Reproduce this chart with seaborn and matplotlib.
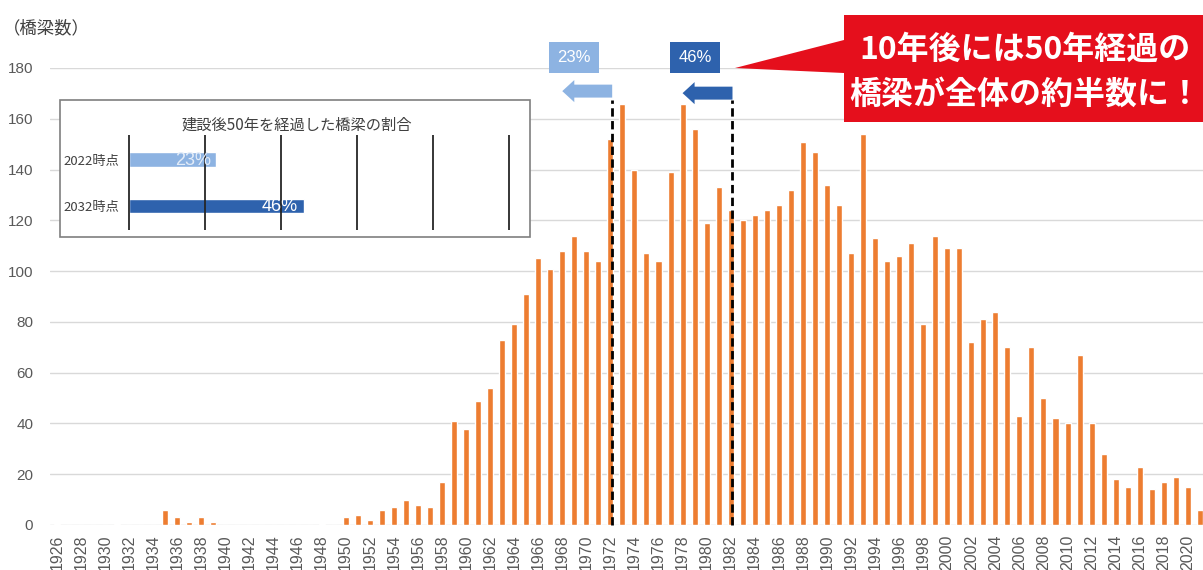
import matplotlib
matplotlib.use("Agg")
import matplotlib.pyplot as plt
from matplotlib.patches import Rectangle, Polygon, FancyArrow
import seaborn as sns
import pandas as pd

# Bridges by year of construction
years = list(range(1926, 2022))
counts = [
    0.5, 0, 0, 0, 0, 0.5, 0, 0, 0, 6,
    3, 1, 3, 1, 0, 0, 0, 0, 0, 0,
    0, 0, 0.5, 0, 3, 4, 2, 6, 7, 10,
    8, 7, 17, 41, 38, 49, 54, 73, 79, 91,
    105, 101, 108, 114, 108, 104, 152, 166, 140, 107,
    104, 139, 166, 156, 119, 133, 124, 120, 122, 124,
    126, 132, 151, 147, 134, 126, 107, 154, 113, 104,
    106, 111, 79, 114, 109, 109, 72, 81, 84, 70,
    43, 70, 50, 42, 40, 67, 40, 28, 18, 15,
    23, 14, 17, 19, 15, 6,
]
yticks = [0, 20, 40, 60, 80, 100, 120, 140, 160, 180]

# Share of bridges older than 50 years
share_labels = ["2022時点", "2032時点"]
share_values = [23, 46]
share_colors = ["#8db3e2", "#2e62ad"]

# Reference years marked with dashed lines (2022-50, 2032-50)
mark_years = [1972, 1982]

sns.set_theme(style="white")
JP = ["Noto Sans CJK JP", "DejaVu Sans"]
NUM = ["Liberation Sans", "DejaVu Sans"]
plt.rcParams["font.family"] = JP

W, H = 1203, 570
fig = plt.figure(figsize=(W / 100, H / 100), dpi=100)


def fx(px):
    return px / W


def fy(py):
    return 1 - py / H


ax = fig.add_axes([fx(50), fy(525), fx(1203 - 50), (525 - 68) / H])
df = pd.DataFrame({"year": years, "count": counts})
sns.barplot(data=df, x="year", y="count", color="#ED7D31", saturation=1,
            width=0.5, ax=ax, zorder=2)
ax.set_xlim(-0.58, 95.26)
ax.set_ylim(0, 180)
ax.set_yticks(yticks)
ax.set_yticklabels([str(v) for v in yticks], family=NUM, fontsize=11, color="#595959")
ax.set_xticks(range(0, len(years), 2))
ax.set_xticklabels([str(y) for y in years[::2]], rotation=90, family=NUM,
                   fontsize=11.5, color="#595959")
ax.tick_params(axis="y", length=0, pad=12)
ax.tick_params(axis="x", length=0, pad=7)
ax.set_xlabel("")
ax.set_ylabel("")
ax.grid(axis="y", color="#d9d9d9", lw=1, zorder=0)
ax.set_axisbelow(True)
for s in ax.spines.values():
    s.set_visible(False)

# Dashed markers at the 50-year thresholds
for yr in mark_years:
    xpos = years.index(yr) + 0.15
    ax.plot([xpos, xpos], [0, 167.5], color="black", lw=2, ls=(0, (3, 1.6)),
            zorder=4, clip_on=False)

# Arrows pointing to the older side of each threshold
arrow_specs = [(mark_years[0], 170.9, share_colors[0]), (mark_years[1], 170.1, share_colors[1])]
for yr, yv, col in arrow_specs:
    x0 = years.index(yr) + 0.15
    ax.add_patch(FancyArrow(x0, yv, -4.15, 0, width=5.1, head_width=8.7,
                            head_length=1.0, length_includes_head=True,
                            color=col, lw=0, zorder=5, clip_on=False))

# Percentage tags above the arrows
tag_specs = [(40.9, 45.05, share_values[0], share_colors[0]),
             (50.95, 55.1, share_values[1], share_colors[1])]
for xa, xb, val, col in tag_specs:
    ax.add_patch(Rectangle((xa, 178.0), xb - xa, 12.2, color=col, lw=0,
                           zorder=5, clip_on=False))
    ax.text((xa + xb) / 2, 184.1, f"{val}%", ha="center", va="center",
            color="white", fontsize=12, family=NUM, zorder=6, clip_on=False)

# Axis unit label
fig.text(fx(3), fy(28), "（橋梁数）", fontsize=12.5, color="#404040",
         ha="left", va="center")

# Inset frame
fig.add_artist(Rectangle((fx(60), fy(237)), fx(530 - 60), (237 - 100) / H,
                         transform=fig.transFigure, facecolor="white",
                         edgecolor="#7f7f7f", lw=1.2, zorder=3))
fig.text(fx(297), fy(125), "建設後50年を経過した橋梁の割合", fontsize=11,
         color="#404040", ha="center", va="center", zorder=4)

ins = fig.add_axes([fx(128), fy(230), fx(510 - 128), (230 - 135) / H])
ins.set_zorder(4)
ins.patch.set_alpha(0)
sdf = pd.DataFrame({"label": share_labels, "value": share_values})
sns.barplot(data=sdf, x="value", y="label", hue="label", palette=share_colors,
            saturation=1, width=0.32, orient="h", legend=False, ax=ins, zorder=2)
ins.set_xlim(-0.3, 100.3)
ins.set_ylim(1.516, -0.527)
ins.set_xticks([0, 20, 40, 60, 80, 100])
ins.set_xticklabels([])
ins.tick_params(axis="both", length=0)
ins.tick_params(axis="y", pad=6, labelsize=9.5, labelcolor="#404040")
ins.grid(axis="x", color="#262626", lw=1.3, zorder=3)
ins.set_axisbelow(False)
ins.set_xlabel("")
ins.set_ylabel("")
for s in ins.spines.values():
    s.set_visible(False)
label_colors = ["#e3ecf8", "white"]
for i, (v, c) in enumerate(zip(share_values, label_colors)):
    ins.text(v - 1.5, i + 0.02, f"{v}%", ha="right", va="center", color=c,
             fontsize=13, family=NUM, zorder=5)

# Red callout
callout = [(844, 15), (1203, 15), (1203, 122), (844, 122), (844, 73),
           (735, 68), (844, 40)]
fig.add_artist(Polygon([(fx(a), fy(b)) for a, b in callout], closed=True,
                       transform=fig.transFigure, facecolor="#e50f1c",
                       edgecolor="none", zorder=6))
fig.text(fx(1025), fy(50), "10年後には50年経過の", fontsize=23, fontweight="bold",
         color="white", ha="center", va="center", zorder=7)
fig.text(fx(1025), fy(95), "橋梁が全体の約半数に！", fontsize=23, fontweight="bold",
         color="white", ha="center", va="center", zorder=7)

fig.savefig("out.png", dpi=100)
